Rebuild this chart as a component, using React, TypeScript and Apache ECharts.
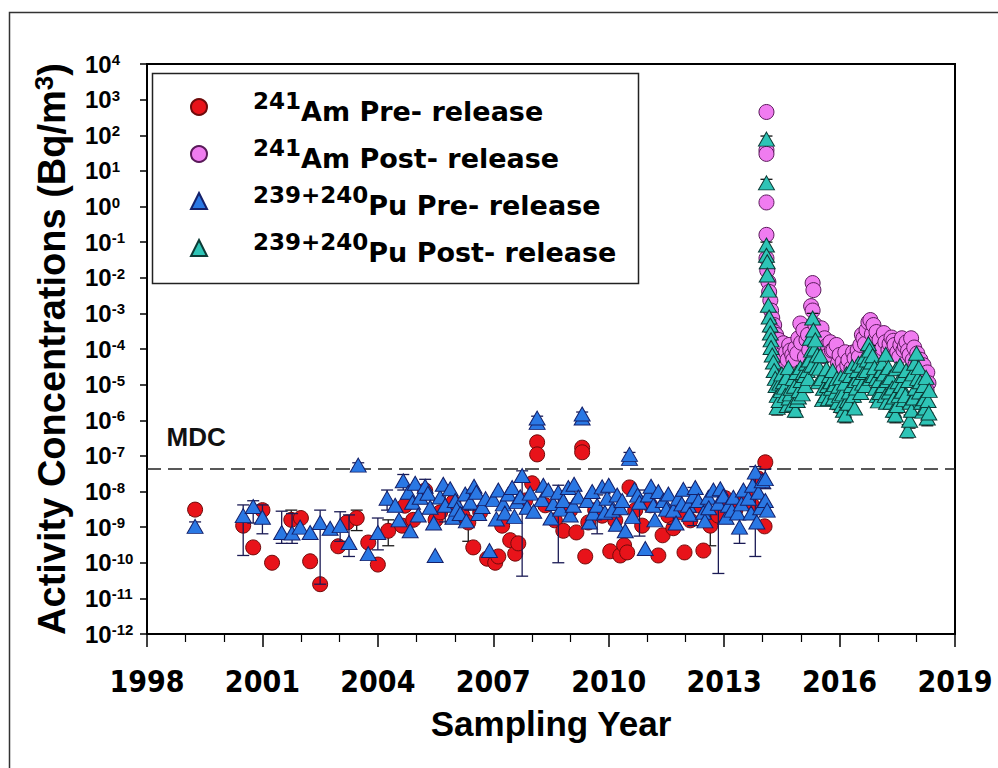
import { useEffect, useRef } from "react";
import * as echarts from "echarts";

// ---- measured activity concentrations, [sampling year, Bq/m3] ----
const AM_PRE: [number, number][] = [
  [1999.25, 3.1e-9], [2000.5, 1.1e-9], [2000.76, 2.7e-10], [2001.0, 3.0e-9], [2001.25, 1.0e-10],
  [2001.75, 1.6e-9], [2002.0, 1.8e-9], [2002.24, 1.1e-10], [2002.5, 2.5e-11], [2002.97, 2.9e-10],
  [2003.2, 1.35e-9], [2003.45, 1.8e-9], [2003.75, 3.7e-10], [2004.0, 8.9e-11], [2004.27, 7.9e-10],
  [2004.63, 1.1e-9], [2004.7, 4.0e-9], [2004.92, 1.6e-9], [2005.23, 1.07e-8], [2005.5, 1.6e-9],
  [2005.62, 2.6e-9], [2005.96, 5.0e-9], [2006.2, 2.1e-9], [2006.35, 1.35e-9], [2006.48, 2.7e-10],
  [2006.66, 2.6e-9], [2006.84, 1.3e-10], [2007.05, 1.0e-10], [2007.13, 1.5e-10], [2007.23, 1.1e-9],
  [2007.44, 4.3e-10], [2007.57, 1.8e-10], [2007.65, 3.5e-10], [2007.83, 5.6e-9], [2008.01, 1.7e-8],
  [2008.14, 2.4e-7], [2008.14, 1.1e-7], [2008.35, 4.1e-9], [2008.6, 1.55e-9], [2008.82, 7.9e-10],
  [2009.0, 3.0e-9], [2009.16, 7.1e-10], [2009.31, 1.7e-7], [2009.31, 1.26e-7], [2009.39, 1.5e-10],
  [2009.47, 1.35e-9], [2009.65, 3.0e-9], [2009.83, 2.1e-9], [2010.04, 2.1e-10], [2010.17, 1.55e-9],
  [2010.3, 1.6e-10], [2010.4, 3.1e-10], [2010.48, 1.95e-10], [2010.54, 1.3e-8], [2010.69, 3.0e-9],
  [2010.87, 1.1e-9], [2011.08, 4.1e-9], [2011.29, 1.6e-10], [2011.4, 5.9e-10], [2011.55, 2.1e-9],
  [2011.68, 9.3e-10], [2011.86, 2.6e-9], [2011.97, 1.95e-10], [2012.12, 1.55e-9], [2012.3, 4.1e-9],
  [2012.46, 2.2e-10], [2012.64, 1.1e-9], [2012.85, 2.1e-9], [2013.03, 6.5e-9], [2013.29, 3.0e-9],
  [2013.55, 7.8e-9], [2013.73, 4.1e-9], [2013.89, 2.3e-8], [2014.05, 1.05e-9], [2014.07, 6.6e-8],
];

const AM_POST: [number, number][] = [
  [2014.1, 450], [2014.1, 38], [2014.1, 30], [2014.1, 1.3], [2014.1, 0.16], [2014.1, 0.035],
  [2014.12, 0.016], [2014.15, 7.6e-3], [2014.17, 4.0e-3], [2014.2, 2.3e-3], [2014.22, 1.2e-3],
  [2014.25, 7.4e-4], [2014.3, 4.7e-4], [2014.3, 3.0e-4], [2014.35, 2.5e-4], [2014.38, 6.0e-5],
  [2014.41, 1.8e-4], [2014.46, 1.05e-4], [2014.4, 4.0e-5], [2014.5, 7.0e-5], [2014.54, 1.45e-4],
  [2014.6, 3.2e-5], [2014.61, 8.1e-5], [2014.65, 5.0e-5], [2014.69, 1.3e-4], [2014.72, 9.0e-5],
  [2014.77, 6.8e-5], [2014.8, 5.0e-5], [2014.85, 1.05e-4], [2014.9, 7.5e-5], [2014.93, 2.0e-4],
  [2014.98, 5.2e-4], [2015.0, 1.5e-4], [2015.06, 3.4e-4], [2015.1, 6.0e-5], [2015.14, 1.8e-4],
  [2015.18, 2.5e-4], [2015.21, 9.3e-5], [2015.26, 1.6e-3], [2015.3, 7.1e-3], [2015.32, 4.5e-3],
  [2015.3, 1.2e-3], [2015.37, 4.7e-4], [2015.4, 1.5e-4], [2015.45, 2.5e-4], [2015.5, 9.0e-5],
  [2015.53, 3.8e-4], [2015.58, 1.1e-4], [2015.6, 6.3e-5], [2015.61, 2.0e-4], [2015.69, 1.3e-4],
  [2015.72, 7.0e-5], [2015.76, 1.55e-4], [2015.8, 9.0e-5], [2015.84, 9.3e-5], [2015.92, 1.3e-4],
  [2015.96, 4.0e-5], [2016.0, 6.8e-5], [2016.08, 4.3e-5], [2016.1, 2.5e-5], [2016.15, 8.1e-5],
  [2016.2, 3.5e-5], [2016.23, 4.9e-5], [2016.31, 2.9e-5], [2016.35, 8.0e-5], [2016.39, 5.5e-5],
  [2016.47, 9.3e-5], [2016.5, 6.0e-5], [2016.54, 1.3e-4], [2016.58, 2.5e-4], [2016.62, 2.0e-4],
  [2016.66, 1.4e-4], [2016.7, 3.4e-4], [2016.75, 5.6e-4], [2016.8, 6.5e-4], [2016.84, 2.6e-4],
  [2016.88, 4.7e-4], [2016.92, 1.8e-4], [2016.96, 3.0e-4], [2017.0, 1.1e-4], [2017.04, 1.8e-4],
  [2017.08, 6.5e-5], [2017.11, 1.05e-4], [2017.15, 2.8e-4], [2017.19, 1.55e-4], [2017.27, 9.3e-5],
  [2017.3, 1.4e-4], [2017.35, 2.1e-4], [2017.4, 1.7e-4], [2017.43, 1.3e-4], [2017.5, 8.1e-5],
  [2017.55, 6.0e-5], [2017.58, 1.3e-4], [2017.62, 2.0e-4], [2017.66, 9.3e-5], [2017.7, 1.2e-4],
  [2017.74, 1.55e-4], [2017.78, 9.0e-5], [2017.82, 6.8e-5], [2017.86, 2.0e-4], [2017.9, 4.9e-5],
  [2017.94, 1.1e-4], [2017.97, 3.5e-5], [2018.02, 7.5e-5], [2018.05, 4.3e-5], [2018.1, 5.0e-5],
  [2018.13, 2.5e-5], [2018.18, 3.5e-5], [2018.21, 1.8e-5], [2018.24, 1.5e-5], [2018.28, 2.2e-5],
  [2018.31, 1.1e-5], [2018.26, 6.9e-6],
];

const PU_PRE: [number, number][] = [
  [1999.25, 1.05e-9], [2000.5, 2.1e-9], [2000.76, 3.8e-9], [2001.0, 1.9e-9], [2001.5, 7.1e-10],
  [2001.77, 6.8e-10], [2001.98, 1.0e-9], [2002.24, 7.1e-10], [2002.5, 1.35e-9], [2002.76, 9.3e-10],
  [2003.02, 1.1e-9], [2003.25, 3.7e-10], [2003.49, 5.5e-8], [2003.75, 1.8e-10], [2004.0, 7.1e-10],
  [2004.24, 6.5e-9], [2004.45, 4.1e-9], [2004.55, 1.6e-9], [2004.66, 2.0e-8], [2004.79, 9.5e-9],
  [2004.84, 7.9e-10], [2004.9, 5.0e-9], [2004.97, 1.7e-8], [2005.05, 2.2e-9], [2005.1, 6.9e-9],
  [2005.23, 1.4e-8], [2005.3, 8.9e-9], [2005.36, 3.6e-9], [2005.45, 1.3e-9], [2005.49, 1.6e-10],
  [2005.62, 7.0e-9], [2005.7, 1.6e-8], [2005.75, 4.1e-9], [2005.88, 1.2e-8], [2005.95, 1.9e-9],
  [2006.01, 5.6e-9], [2006.05, 3.2e-9], [2006.14, 2.4e-9], [2006.27, 8.5e-9], [2006.3, 1.5e-9],
  [2006.4, 5.0e-9], [2006.5, 1.4e-8], [2006.56, 9.5e-9], [2006.62, 2.4e-9], [2006.71, 3.8e-9],
  [2006.8, 6.3e-9], [2006.9, 2.2e-10], [2007.0, 6.0e-9], [2007.08, 1.7e-9], [2007.13, 1.1e-8],
  [2007.26, 4.5e-9], [2007.3, 2.5e-9], [2007.39, 8.5e-9], [2007.49, 1.3e-8], [2007.55, 2.0e-9],
  [2007.62, 5.2e-9], [2007.7, 7.1e-9], [2007.75, 2.8e-8], [2007.88, 3.6e-9], [2007.96, 9.0e-9],
  [2008.05, 2.8e-9], [2008.14, 8.7e-7], [2008.14, 1.15e-6], [2008.27, 6.0e-9], [2008.3, 1.5e-8],
  [2008.43, 1.1e-8], [2008.5, 1.8e-9], [2008.56, 4.6e-9], [2008.69, 9.5e-9], [2008.75, 3.2e-9],
  [2008.82, 5.6e-9], [2008.95, 1.3e-8], [2009.0, 2.2e-9], [2009.08, 4.1e-9], [2009.1, 1.6e-8],
  [2009.21, 7.0e-9], [2009.31, 1.15e-6], [2009.31, 1.5e-6], [2009.44, 5.6e-9], [2009.5, 1.4e-9],
  [2009.57, 1.0e-8], [2009.6, 2.5e-9], [2009.7, 4.1e-9], [2009.83, 1.35e-8], [2009.9, 2.6e-9],
  [2009.96, 6.5e-9], [2010.0, 1.5e-8], [2010.09, 3.0e-9], [2010.2, 1.2e-9], [2010.22, 8.0e-9],
  [2010.3, 3.5e-9], [2010.35, 5.6e-9], [2010.43, 7.9e-10], [2010.54, 8.5e-8], [2010.54, 1.1e-7],
  [2010.62, 2.0e-9], [2010.67, 1.15e-8], [2010.75, 7.9e-9], [2010.8, 5.0e-9], [2010.95, 2.5e-10],
  [2011.03, 8.0e-9], [2011.1, 1.4e-8], [2011.16, 4.1e-9], [2011.2, 1.6e-9], [2011.29, 1.0e-8],
  [2011.42, 5.6e-9], [2011.5, 3.2e-9], [2011.55, 8.5e-9], [2011.68, 3.0e-9], [2011.75, 1.3e-9],
  [2011.81, 6.5e-9], [2011.9, 4.5e-9], [2011.94, 1.15e-8], [2012.07, 4.1e-9], [2012.1, 2.3e-9],
  [2012.2, 7.5e-9], [2012.25, 1.3e-8], [2012.33, 5.6e-9], [2012.46, 2.6e-9], [2012.5, 1.5e-9],
  [2012.59, 6.9e-9], [2012.6, 3.5e-9], [2012.72, 1.1e-8], [2012.85, 4.7e-9], [2012.9, 1.2e-8],
  [2012.98, 7.5e-9], [2013.05, 1.9e-9], [2013.11, 4.1e-9], [2013.2, 3.0e-9], [2013.24, 6.9e-9],
  [2013.35, 2.5e-9], [2013.4, 1.0e-9], [2013.45, 4.5e-9], [2013.5, 1.1e-8], [2013.63, 6.5e-9],
  [2013.7, 2.5e-9], [2013.74, 1.5e-8], [2013.81, 3.5e-8], [2013.85, 1.4e-9], [2013.89, 9.5e-9],
  [2013.95, 3.5e-9], [2013.99, 2.0e-8], [2014.07, 2.3e-8], [2014.07, 5.6e-9], [2014.12, 3.0e-9],
];

const PU_POST: [number, number][] = [
  [2014.1, 78], [2014.1, 4.6], [2014.1, 0.083], [2014.1, 0.043], [2014.12, 0.028], [2014.12, 0.012],
  [2014.15, 4.5e-3], [2014.15, 1.7e-3], [2014.17, 7.9e-4], [2014.2, 4.7e-4], [2014.2, 2.8e-4],
  [2014.22, 1.8e-4], [2014.22, 1.1e-4], [2014.25, 6.8e-5], [2014.28, 4.3e-5], [2014.3, 2.5e-5],
  [2014.33, 1.5e-5], [2014.35, 9.5e-6], [2014.38, 5.0e-6], [2014.38, 2.3e-6], [2014.43, 3.6e-6],
  [2014.45, 1.1e-5], [2014.48, 6.9e-6], [2014.5, 2.0e-5], [2014.54, 1.2e-5], [2014.57, 8.5e-6],
  [2014.59, 5.0e-6], [2014.62, 1.6e-5], [2014.64, 2.6e-6], [2014.67, 3.0e-5], [2014.69, 4.2e-6],
  [2014.72, 5.5e-6], [2014.74, 7.9e-6], [2014.78, 2.8e-6], [2014.8, 1.5e-5], [2014.83, 9.0e-6],
  [2014.85, 1.9e-6], [2014.88, 2.2e-5], [2014.9, 3.6e-6], [2014.93, 4.5e-6], [2014.95, 6.9e-6],
  [2014.98, 3.0e-5], [2015.0, 1.3e-5], [2015.03, 5.5e-6], [2015.06, 2.2e-5], [2015.09, 1.8e-5],
  [2015.11, 9.5e-6], [2015.14, 4.0e-5], [2015.16, 2.5e-5], [2015.19, 1.5e-5], [2015.21, 4.9e-5],
  [2015.24, 2.0e-4], [2015.27, 9.3e-5], [2015.28, 3.5e-5], [2015.3, 7.4e-4], [2015.32, 3.4e-4],
  [2015.35, 1.0e-4], [2015.37, 1.8e-4], [2015.4, 3.0e-5], [2015.42, 6.8e-5], [2015.45, 1.2e-5],
  [2015.48, 2.9e-5], [2015.5, 6.5e-5], [2015.53, 1.5e-5], [2015.56, 3.8e-6], [2015.58, 7.9e-6],
  [2015.63, 5.0e-6], [2015.66, 2.8e-5], [2015.69, 9.5e-6], [2015.71, 4.0e-6], [2015.74, 1.8e-5],
  [2015.77, 1.2e-5], [2015.79, 7.9e-6], [2015.82, 2.5e-5], [2015.84, 4.2e-6], [2015.87, 1.0e-5],
  [2015.9, 6.2e-6], [2015.93, 1.5e-5], [2015.95, 3.2e-6], [2015.98, 9.0e-6], [2016.0, 5.0e-6],
  [2016.03, 1.6e-5], [2016.05, 2.6e-6], [2016.08, 5.5e-6], [2016.1, 1.9e-6], [2016.13, 1.1e-5],
  [2016.15, 1.4e-6], [2016.18, 2.0e-5], [2016.2, 3.6e-6], [2016.23, 3.0e-6], [2016.25, 6.2e-6],
  [2016.28, 1.8e-5], [2016.31, 9.5e-6], [2016.33, 3.2e-5], [2016.36, 5.0e-6], [2016.39, 2.2e-6],
  [2016.41, 1.3e-5], [2016.44, 8.0e-6], [2016.46, 2.5e-5], [2016.49, 4.0e-5], [2016.52, 1.5e-5],
  [2016.55, 6.0e-6], [2016.57, 3.5e-5], [2016.6, 1.1e-5], [2016.62, 2.2e-5], [2016.65, 6.0e-5],
  [2016.67, 9.5e-6], [2016.7, 2.5e-5], [2016.72, 4.9e-5], [2016.75, 1.4e-4], [2016.78, 9.3e-5],
  [2016.8, 1.5e-5], [2016.83, 4.3e-5], [2016.86, 6.5e-5], [2016.88, 1.8e-5], [2016.91, 3.0e-5],
  [2016.93, 7.9e-6], [2016.96, 1.5e-5], [2016.98, 5.0e-6], [2017.01, 3.5e-6], [2017.03, 1.3e-5],
  [2017.06, 6.0e-6], [2017.09, 2.5e-5], [2017.11, 4.0e-5], [2017.14, 9.5e-6], [2017.16, 2.0e-5],
  [2017.19, 5.0e-6], [2017.2, 7.1e-5], [2017.22, 3.2e-6], [2017.24, 1.3e-5], [2017.27, 3.0e-5],
  [2017.29, 6.2e-6], [2017.32, 1.6e-5], [2017.34, 3.2e-6], [2017.37, 8.0e-6], [2017.4, 1.9e-6],
  [2017.42, 4.5e-6], [2017.45, 1.4e-6], [2017.47, 2.8e-5], [2017.5, 2.6e-6], [2017.52, 1.2e-5],
  [2017.55, 5.0e-6], [2017.57, 3.5e-5], [2017.6, 9.5e-6], [2017.63, 6.5e-6], [2017.66, 1.8e-5],
  [2017.68, 3.8e-6], [2017.71, 5.0e-6], [2017.73, 2.5e-5], [2017.77, 5.2e-7], [2017.79, 1.3e-5],
  [2017.82, 1.0e-6], [2017.84, 3.2e-6], [2017.87, 1.9e-6], [2017.9, 2.0e-5], [2017.92, 4.2e-6],
  [2017.95, 4.0e-5], [2017.97, 7.9e-6], [2018.0, 7.6e-5], [2018.03, 1.5e-5], [2018.06, 3.0e-5],
  [2018.08, 6.2e-6], [2018.1, 1.2e-5], [2018.13, 3.2e-6], [2018.16, 1.8e-6], [2018.18, 9.5e-6],
  [2018.2, 4.0e-6], [2018.23, 2.2e-6], [2018.25, 1.6e-5], [2018.28, 1.15e-6], [2018.3, 3.6e-6],
  [2018.32, 1.6e-6], [2018.33, 6.9e-6],
];

// ---- uncertainty ranges, [sampling year, lower, upper] ----
const AM_PRE_ERR: [number, number, number][] = [
  [1999.25, 2.2e-9, 4.3e-9], [2001.75, 5.0e-10, 3.0e-9], [2003.45, 8.0e-10, 3.0e-9],
  [2004.27, 3.0e-10, 1.6e-9], [2006.35, 4.0e-10, 3.5e-9], [2008.14, 1.9e-7, 3.0e-7],
  [2009.31, 1.3e-7, 2.2e-7], [2012.64, 3.0e-10, 2.6e-9], [2014.07, 4.5e-8, 9.0e-8],
];

const PU_PRE_ERR: [number, number, number][] = [
  [1999.25, 8.0e-10, 1.4e-9], [2000.5, 1.6e-10, 4.2e-9], [2000.76, 1.3e-9, 5.5e-9],
  [2001.0, 6.5e-10, 4.2e-9], [2001.5, 3.5e-10, 2.8e-9], [2001.77, 3.5e-10, 2.4e-9],
  [2002.5, 2.5e-11, 3.0e-9], [2003.02, 4.0e-10, 2.7e-9], [2003.25, 1.5e-10, 2.2e-9],
  [2003.49, 4.6e-8, 6.4e-8], [2004.0, 2.3e-10, 1.8e-9], [2004.24, 3.0e-9, 1.1e-8],
  [2004.66, 1.1e-8, 3.0e-8], [2005.23, 7.0e-9, 2.2e-8], [2005.75, 1.4e-9, 8.0e-9],
  [2006.4, 3.0e-9, 1.1e-8], [2007.75, 4.2e-11, 3.8e-8], [2008.14, 7.5e-7, 1.3e-6],
  [2008.69, 1.0e-10, 1.5e-8], [2009.31, 1.0e-6, 1.7e-6], [2009.7, 6.5e-10, 8.0e-9],
  [2010.54, 7.5e-8, 1.25e-7], [2010.8, 5.6e-10, 1.1e-8], [2011.68, 1.2e-9, 6.0e-9],
  [2012.2, 1.1e-9, 1.3e-8], [2012.85, 5.0e-11, 9.0e-9], [2013.4, 3.5e-10, 1.9e-9],
  [2013.81, 1.5e-10, 5.0e-8], [2014.07, 1.2e-8, 4.2e-8],
];

const AM_POST_ERR: [number, number, number][] = [
  [2014.1, 380, 520], [2014.1, 25, 45], [2015.3, 5.5e-3, 9.0e-3], [2016.8, 5.5e-4, 8.5e-4],
];

const PU_POST_ERR: [number, number, number][] = [
  [2014.1, 60, 95], [2014.1, 3.6, 5.8], [2014.1, 0.065, 0.1], [2014.2, 3.0e-4, 6.5e-4],
  [2014.3, 1.6e-5, 3.4e-5], [2014.38, 1.4e-6, 3.6e-6], [2014.64, 1.7e-6, 3.6e-6],
  [2014.85, 1.2e-6, 2.7e-6], [2014.95, 4.3e-6, 9.5e-6], [2015.11, 6.0e-6, 1.3e-5],
  [2015.3, 5.0e-4, 1.0e-3], [2015.63, 3.2e-6, 7.0e-6], [2015.84, 2.6e-6, 5.8e-6],
  [2015.95, 2.0e-6, 4.5e-6], [2016.05, 1.6e-6, 3.6e-6], [2016.15, 8.5e-7, 2.0e-6],
  [2016.36, 3.2e-6, 7.0e-6], [2016.46, 1.6e-5, 3.4e-5], [2016.57, 2.2e-5, 4.8e-5],
  [2016.78, 6.0e-5, 1.25e-4], [2016.98, 3.2e-6, 7.0e-6], [2017.19, 3.2e-6, 7.0e-6],
  [2017.4, 1.2e-6, 2.6e-6], [2017.45, 8.5e-7, 2.0e-6], [2017.5, 1.6e-6, 3.6e-6],
  [2017.77, 3.2e-7, 7.5e-7], [2017.82, 6.0e-7, 1.4e-6], [2017.87, 1.2e-6, 2.6e-6],
  [2018.23, 1.4e-6, 3.0e-6], [2018.28, 7.0e-7, 1.6e-6],
];

// minimum detectable concentration, drawn across the whole period
const MDC = 4.3e-8;
const MDC_LINE: [number, number][] = [[1998, MDC], [2019, MDC]];

// legend entries: isotope superscript + label
const LEGEND_ITEMS = [
  { sup: "241", main: "Am Pre- release" },
  { sup: "241", main: "Am Post- release" },
  { sup: "239+240", main: "Pu Pre- release" },
  { sup: "239+240", main: "Pu Post- release" },
];
const SERIES_NAMES = LEGEND_ITEMS.map((d) => d.sup + d.main);

const Y_MIN_EXP = -12;
const Y_MAX_EXP = 4;

const ARIAL = "'Liberation Sans', Arial, Helvetica, sans-serif";
const NARROW = "'Liberation Sans Narrow', 'Arial Narrow', 'DejaVu Sans Condensed', sans-serif";
const WIDE = "'DejaVu Sans', Verdana, sans-serif";

function errorBars(data: [number, number, number][], color: string, z: number) {
  return {
    type: "custom",
    data,
    z,
    silent: true,
    encode: { x: 0, y: [1, 2] },
    renderItem: (_params: any, api: any) => {
      const x = api.value(0);
      const lo = api.coord([x, api.value(1)]);
      const hi = api.coord([x, api.value(2)]);
      const w = 6;
      const style = { stroke: color, lineWidth: 1.3 };
      return {
        type: "group",
        children: [
          { type: "line", shape: { x1: lo[0], y1: lo[1], x2: hi[0], y2: hi[1] }, style },
          { type: "line", shape: { x1: lo[0] - w, y1: lo[1], x2: lo[0] + w, y2: lo[1] }, style },
          { type: "line", shape: { x1: hi[0] - w, y1: hi[1], x2: hi[0] + w, y2: hi[1] }, style },
        ],
      };
    },
  };
}

export default function App() {
  const ref = useRef<HTMLDivElement>(null);

  useEffect(() => {
    if (!ref.current) return;
    const chart = echarts.init(ref.current, null, { renderer: "svg" });

    const option: any = {
      animation: false,
      backgroundColor: "#fff",
      grid: {
        left: 147,
        right: 43,
        top: 64,
        bottom: 134,
        show: true,
        borderColor: "#000",
        borderWidth: 2,
      },
      xAxis: {
        type: "value",
        min: 1998,
        max: 2019,
        interval: 3,
        axisLine: { show: true, lineStyle: { color: "#000", width: 2 } },
        axisTick: { show: true, length: 13, lineStyle: { color: "#000", width: 1.5 } },
        minorTick: { show: true, splitNumber: 3, length: 8, lineStyle: { color: "#000", width: 1.2 } },
        splitLine: { show: false },
        axisLabel: {
          margin: 32,
          formatter: (v: number) => String(v),
          fontFamily: NARROW,
          fontWeight: "bold",
          fontSize: 30,
          color: "#000",
        },
        name: "Sampling Year",
        nameLocation: "middle",
        nameGap: 72,
        nameTextStyle: { fontFamily: ARIAL, fontWeight: "bold", fontSize: 35, color: "#000" },
      },
      yAxis: {
        type: "log",
        logBase: 10,
        min: Math.pow(10, Y_MIN_EXP),
        max: Math.pow(10, Y_MAX_EXP),
        interval: 1,
        axisLine: { show: true, lineStyle: { color: "#000", width: 2 } },
        axisTick: { show: true, length: 7, lineStyle: { color: "#000", width: 1.5 } },
        splitLine: { show: false },
        axisLabel: {
          margin: 62,
          align: "left",
          formatter: (v: number) => `{b|10}{e|${Math.round(Math.log10(v))}}`,
          rich: {
            b: { fontFamily: ARIAL, fontWeight: "bold", fontSize: 24, lineHeight: 24, color: "#000", verticalAlign: "bottom" },
            e: { fontFamily: ARIAL, fontWeight: "bold", fontSize: 15, lineHeight: 15, color: "#000", verticalAlign: "top" },
          },
        },
        name: "{t|Activity Concentrations (Bq/m}{s|3}{t|)}",
        nameLocation: "middle",
        nameGap: 76,
        nameRotate: 90,
        nameTextStyle: {
          rich: {
            t: { fontFamily: ARIAL, fontWeight: "bold", fontSize: 38, lineHeight: 40, color: "#000", verticalAlign: "bottom" },
            s: { fontFamily: ARIAL, fontWeight: "bold", fontSize: 26, lineHeight: 26, color: "#000", verticalAlign: "top" },
          },
        },
      },
      legend: {
        orient: "vertical",
        left: 190,
        top: 89,
        padding: 0,
        itemWidth: 16,
        itemHeight: 16,
        itemGap: 11,
        selectedMode: false,
        data: SERIES_NAMES,
        formatter: (name: string) => {
          const item = LEGEND_ITEMS[SERIES_NAMES.indexOf(name)];
          return `{sup|${item.sup}}{main|${item.main}}`;
        },
        textStyle: {
          color: "#000",
          rich: {
            sup: { fontFamily: WIDE, fontWeight: "bold", fontSize: 23, lineHeight: 23, color: "#000", verticalAlign: "top", padding: [0, 0, 0, 41] },
            main: { fontFamily: WIDE, fontWeight: "bold", fontSize: 27, lineHeight: 36, color: "#000", verticalAlign: "bottom" },
          },
        },
      },
      graphic: [
        {
          type: "rect",
          shape: { x: 9.5, y: 12.5, width: 1200, height: 1000 },
          style: { fill: "none", stroke: "#333", lineWidth: 1.5 },
          silent: true,
        },
        {
          type: "rect",
          shape: { x: 152.5, y: 73.5, width: 486, height: 210 },
          style: { fill: "none", stroke: "#222", lineWidth: 1.5 },
          silent: true,
        },
      ],
      series: [
        errorBars(AM_PRE_ERR, "#1a1a1a", 2),
        {
          type: "scatter",
          name: SERIES_NAMES[0],
          data: AM_PRE,
          symbol: "circle",
          symbolSize: 15,
          z: 3,
          itemStyle: { color: "#e8131a", borderColor: "#6e0b0b", borderWidth: 1, opacity: 1 },
        },
        {
          type: "line",
          name: "MDC",
          z: 3,
          silent: true,
          data: [
            {
              value: MDC_LINE[0],
              label: {
                show: true,
                formatter: "MDC",
                position: [20, -44],
                fontFamily: ARIAL,
                fontWeight: "bold",
                fontSize: 26,
                color: "#111",
              },
            },
            { value: MDC_LINE[1] },
          ],
          showSymbol: true,
          symbol: "circle",
          symbolSize: 1,
          itemStyle: { color: "rgba(0,0,0,0)" },
          lineStyle: { color: "#222", width: 1.5, type: [14, 7] },
        },
        errorBars(PU_PRE_ERR, "#1b1b55", 4),
        {
          type: "scatter",
          name: SERIES_NAMES[2],
          data: PU_PRE,
          symbol: "triangle",
          symbolSize: [16, 14],
          z: 5,
          itemStyle: { color: "#2a78e4", borderColor: "#14206a", borderWidth: 1, opacity: 1 },
        },
        errorBars(AM_POST_ERR, "#111", 6),
        {
          type: "scatter",
          name: SERIES_NAMES[1],
          data: AM_POST,
          symbol: "circle",
          symbolSize: 15,
          z: 7,
          itemStyle: { color: "#f07cf0", borderColor: "#5a1a5a", borderWidth: 1, opacity: 1 },
        },
        errorBars(PU_POST_ERR, "#111", 8),
        {
          type: "scatter",
          name: SERIES_NAMES[3],
          data: PU_POST,
          symbol: "triangle",
          symbolSize: [16, 14],
          z: 9,
          itemStyle: { color: "#2ec4b6", borderColor: "#0c3b36", borderWidth: 1, opacity: 1 },
        },
      ],
    };

    chart.setOption(option);
    return () => chart.dispose();
  }, []);

  return (
    <div
      ref={ref}
      style={{ position: "fixed", left: 0, top: 0, width: 998, height: 768, background: "#fff" }}
    />
  );
}
